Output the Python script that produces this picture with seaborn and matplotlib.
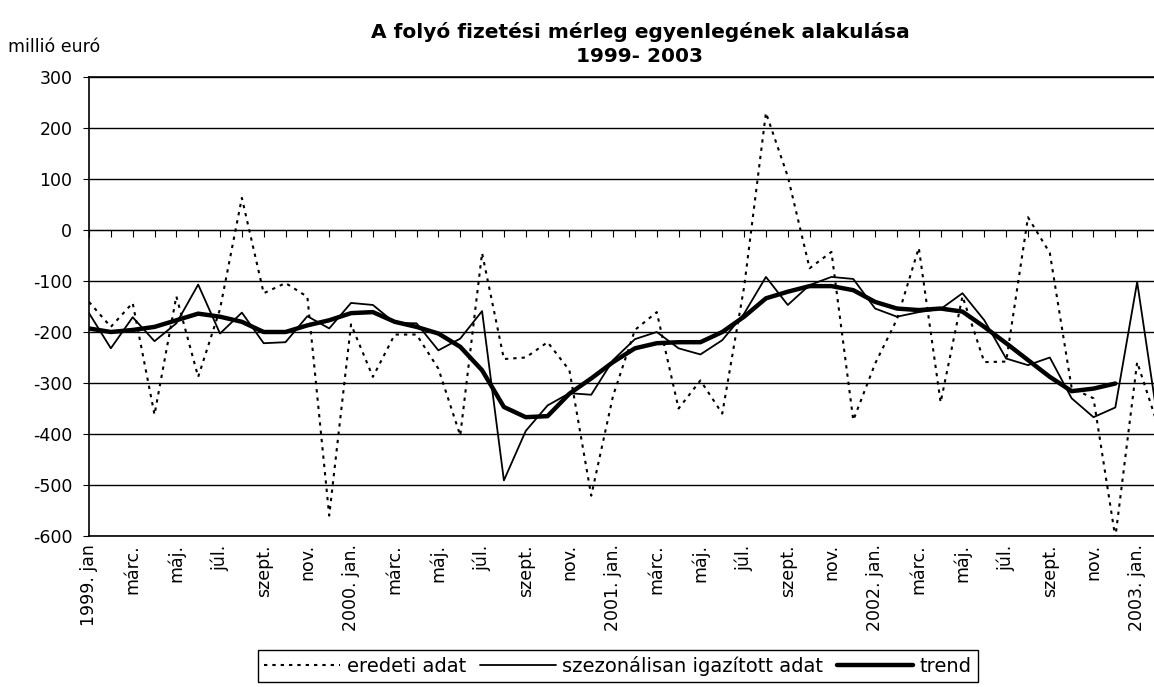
import matplotlib
matplotlib.use('Agg')
import matplotlib.pyplot as plt
import numpy as np
import pandas as pd
import seaborn as sns

# Havi adatok, 1999. jan - 2003. febr. (millió euró)
eredeti = [-141, -190, -143, -362, -130, -288, -155, 63, -124, -104,
           -131, -560, -185, -288, -205, -205, -272, -403, -45, -253,
           -250, -220, -275, -521, -325, -196, -161, -350, -295, -360,
           -112, 230, 105, -75, -43, -373, -262, -175, -35, -338,
           -130, -259, -258, 25, -45, -310, -330, -603, -259, -390]
szezonalis = [-163, -232, -171, -218, -183, -107, -203, -162, -222, -220,
              -169, -193, -143, -147, -182, -183, -236, -213, -159, -491,
              -394, -344, -320, -323, -255, -214, -200, -232, -244, -216,
              -164, -92, -147, -108, -92, -96, -154, -170, -161, -155,
              -124, -177, -252, -265, -250, -330, -367, -348, -102, -390]
trend = [-193, -200, -196, -190, -177, -164, -170, -180, -200, -200,
         -187, -177, -163, -161, -180, -190, -203, -229, -275, -347,
         -367, -365, -321, -291, -259, -232, -222, -220, -220, -200,
         -170, -134, -121, -110, -110, -118, -141, -154, -157, -154,
         -160, -190, -222, -255, -288, -316, -311, -301, np.nan, np.nan]

tick_labels = ['1999. jan', 'márc.', 'máj.', 'júl.', 'szept.', 'nov.',
               '2000. jan.', 'márc.', 'máj.', 'júl.', 'szept.', 'nov.',
               '2001. jan.', 'márc.', 'máj.', 'júl.', 'szept.', 'nov.',
               '2002. jan.', 'márc.', 'máj.', 'júl.', 'szept.', 'nov.',
               '2003. jan.']

df = pd.DataFrame({'honap': np.arange(len(eredeti)),
                   'eredeti': eredeti,
                   'szezonalis': szezonalis,
                   'trend': trend})

sns.set_style('white')
plt.rcParams['font.family'] = ['DejaVu Sans']
plt.rcParams['axes.unicode_minus'] = False
plt.rcParams['text.color'] = 'black'
plt.rcParams['xtick.color'] = 'black'
plt.rcParams['ytick.color'] = 'black'

fig = plt.figure(figsize=(11.54, 6.87), dpi=100)
ax = fig.add_axes([89 / 1154, 1 - 536 / 687, 1070 / 1154, 459 / 687])

sns.lineplot(data=df, x='honap', y='eredeti', ax=ax, color='black', lw=1.5,
             linestyle=(0, (1.6, 2.4)), label='eredeti adat')
sns.lineplot(data=df, x='honap', y='szezonalis', ax=ax, color='black', lw=1.3,
             label='szezonálisan igazított adat')
sns.lineplot(data=df, x='honap', y='trend', ax=ax, color='black', lw=3.2,
             label='trend')

ax.set_xlim(0, len(eredeti) - 1)
ax.set_ylim(-600, 300)
ax.set_yticks(range(-600, 301, 100))
ax.yaxis.grid(True, color='black', lw=1)
ax.xaxis.grid(False)
ax.set_xticks(range(0, len(eredeti) - 1, 2))
ax.set_xticklabels(tick_labels, rotation=90, va='top', ha='center')
ax.tick_params(axis='x', length=0, pad=6, labelsize=12.5, labelcolor='black')
ax.tick_params(axis='y', length=4, direction='out', pad=8, labelsize=12.5,
               color='black', labelcolor='black', left=True)
ax.set_xlabel('')
ax.set_ylabel('')
for s in ax.spines.values():
    s.set_color('black')
    s.set_linewidth(1.2)

# kategoriatengely a 0-s vonalon, havi osztásokkal
sec = ax.secondary_xaxis(600 / 900)
sec.set_alignment('bottom')
sec.set_xticks(range(len(eredeti)))
sec.tick_params(axis='x', length=5, direction='out', color='black',
                labelbottom=False, labeltop=False)
sec.spines['bottom'].set_color('black')

handles, labels = ax.get_legend_handles_labels()
ax.get_legend().remove()
leg = fig.legend(handles, labels, loc='upper center', ncol=3,
                 bbox_to_anchor=(618 / 1154, 1 - 650 / 687),
                 frameon=True, fancybox=False, edgecolor='black',
                 framealpha=1, fontsize=14, handlelength=3.9,
                 handletextpad=0.35, columnspacing=0.7, borderpad=0.3,
                 borderaxespad=0)
leg.get_frame().set_linewidth(1)

fig.text(640 / 1154, 1 - 32 / 687,
         'A folyó fizetési mérleg egyenlegének alakulása',
         ha='center', va='center', fontsize=14.5, fontweight='bold')
fig.text(640 / 1154, 1 - 57 / 687, '1999- 2003',
         ha='center', va='center', fontsize=14.5, fontweight='bold')
fig.text(8 / 1154, 1 - 47 / 687, 'millió euró', ha='left', va='center',
         fontsize=12.5)

fig.savefig('out.png', dpi=100)
